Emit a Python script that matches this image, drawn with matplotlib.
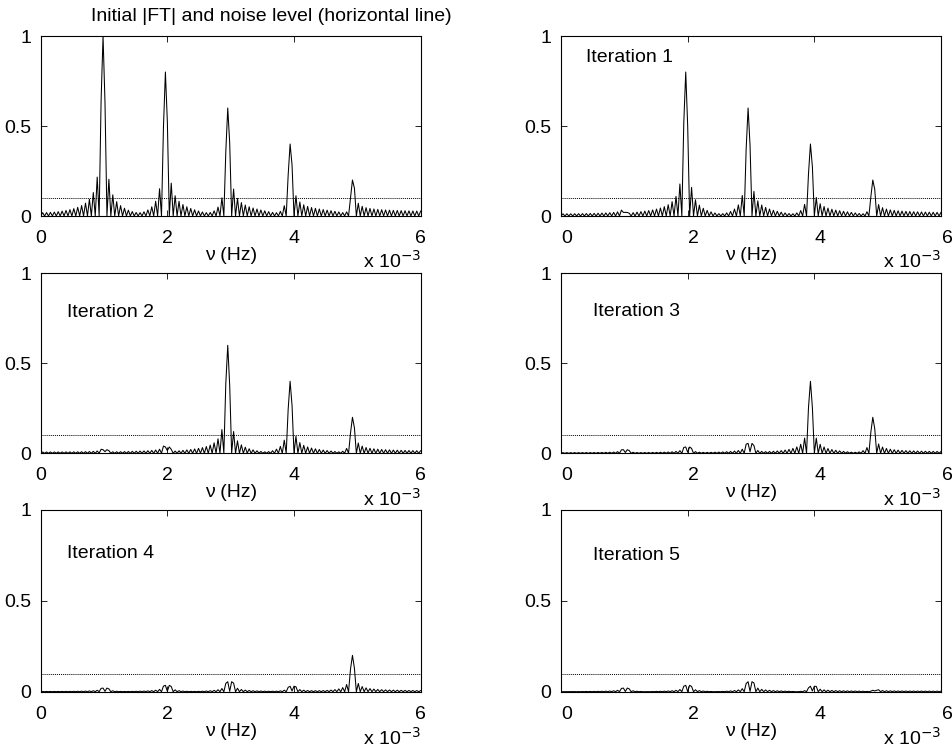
import numpy as np
import matplotlib.pyplot as plt
from matplotlib.transforms import ScaledTranslation

plt.rcParams['font.family'] = ['Liberation Sans', 'DejaVu Sans']

# five sinusoids in the test signal (frequency in mHz, amplitude)
freqs_mhz = [0.985, 1.969, 2.954, 3.938, 4.923]
amps = [1.0, 0.8, 0.6, 0.4, 0.2]
# height of the small "M" bump left behind once a line has been cleaned
resid = [0.02, 0.035, 0.055, 0.03, 0.008]
noise_level = 0.1
panel_names = ['', 'Iteration 1', 'Iteration 2', 'Iteration 3', 'Iteration 4', 'Iteration 5']

# time sampling of the signal
N = 325
dt = 50.0
T = N * dt
t = np.arange(N) * dt
tc = t.mean()
f = np.arange(0, 6e-3 + 1e-9, 1 / (2 * T))
kern = np.exp(-2j * np.pi * np.outer(f, t))

def spec(x):
    return 2.0 / N * (kern @ x)

fk = [np.round(v * 1e-3 * T) / T for v in freqs_mhz]
comps = [spec(a * np.cos(2 * np.pi * fr * t)) for a, fr in zip(amps, fk)]
# cleaning removes each line at a slightly wrong frequency
leftover = []
for h, fr in zip(resid, fk):
    r = spec(np.cos(2 * np.pi * fr * (t - tc)) -
             np.cos(2 * np.pi * (fr + 1.0 / T) * (t - tc)))
    leftover.append(r * h / np.abs(r).max())

fig = plt.figure(figsize=(9.53, 7.49), dpi=100)
lefts = [0.0427, 0.5887]
bottoms = [0.7116, 0.3948, 0.0765]
heights = [0.2403, 0.2403, 0.2426]
text_xy = [None, (0.4, 0.88), (0.41, 0.78), (0.5, 0.79), (0.41, 0.76), (0.5, 0.75)]

for p in range(6):
    row, col = p // 2, p % 2
    ax = fig.add_axes([lefts[col], bottoms[row], 0.3987, heights[row]])
    X = np.zeros(len(f), dtype=complex)
    for c in comps[p:]:
        X = X + c
    for c in leftover[:p]:
        X = X + c
    ax.plot(f * 1e3, np.abs(X), color='black', lw=0.75)
    ax.axhline(noise_level, color='black', lw=0.7, ls=(0, (1, 1)))
    ax.set_xlim(0, 6)
    ax.set_ylim(0, 1)
    ax.set_xticks([0, 2, 4, 6])
    ax.set_yticks([0, 0.5, 1])
    ax.set_yticklabels(['0', '0.5', '1'])
    ax.tick_params(direction='in', top=True, right=True, length=4, width=0.6,
                   labelsize=14)
    ax.tick_params(axis='x', pad=10)
    ax.tick_params(axis='y', pad=7)
    for s in ax.spines.values():
        s.set_linewidth(0.8)
    ax.set_xlabel('\u03bd (Hz)', fontsize=14, labelpad=0)
    ax.text(1.0, -0.29, 'x 10$^{-3}$', transform=ax.transAxes, ha='right',
            va='baseline', fontsize=14)
    if p > 0:
        ax.text(text_xy[p][0], text_xy[p][1], panel_names[p], fontsize=14,
                ha='left', va='center')
    if col == 1:
        shift = ScaledTranslation(6 / 100, 0, fig.dpi_scale_trans)
        for lab in ax.get_xticklabels():
            lab.set_transform(lab.get_transform() + shift)

fig.text(0.285, 0.978, 'Initial |FT| and noise level (horizontal line)',
         ha='center', va='center', fontsize=14)

fig.savefig('out.png', dpi=100)
